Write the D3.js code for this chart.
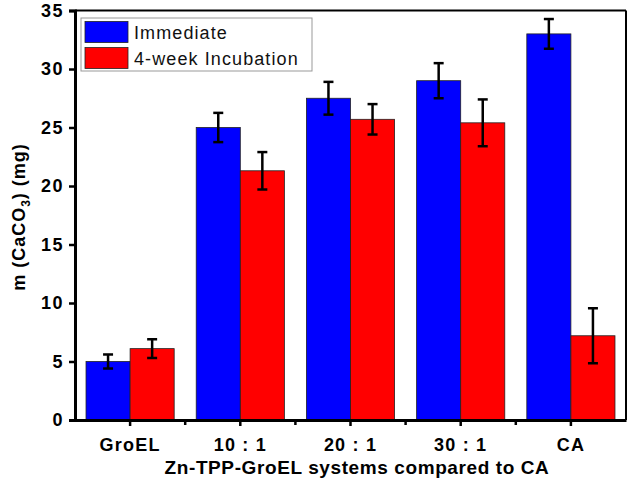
<!DOCTYPE html>
<html><head><meta charset="utf-8">
<script src="https://cdn.jsdelivr.net/npm/d3@7/dist/d3.min.js"></script>
<style>body{margin:0;background:#fff}svg{display:block}text{font-family:Arial,"Liberation Sans",sans-serif}</style>
</head><body><svg id="c" width="629" height="487"></svg>
<script>
const categories = ["GroEL", "10 : 1", "20 : 1", "30 : 1", "CA"];
const series = ["Immediate", "4-week Incubation"];
const immediate = [5.0, 25.0, 27.5, 29.0, 33.0];
const immediateErr = [0.6, 1.25, 1.4, 1.5, 1.27];
const incubation = [6.1, 21.3, 25.7, 25.4, 7.2];
const incubationErr = [0.8, 1.6, 1.3, 2.0, 2.35];
const yTicks = [0, 5, 10, 15, 20, 25, 30, 35];
const colors = ["#0000ff", "#ff0000"];

const svg = d3.select("#c");
const L = 75, R = 626, T = 10.5, B = 420;
const x = d3.scaleBand().domain(categories).range([L, R]).paddingInner(0.2).paddingOuter(0.1);
const xs = d3.scaleBand().domain(series).range([0, x.bandwidth()]);
const y = d3.scaleLinear().domain([0, 35]).range([B, T]);
const vals = [immediate, incubation], errs = [immediateErr, incubationErr];

// bars
series.forEach((s, si) => {
  const g = svg.append("g");
  g.selectAll("rect").data(categories).join("rect")
    .attr("x", c => x(c) + xs(s)).attr("width", xs.bandwidth())
    .attr("y", (c, i) => y(vals[si][i])).attr("height", (c, i) => B - y(vals[si][i]))
    .attr("fill", colors[si]).attr("stroke", "#222").attr("stroke-width", 0.8);
  const eg = g.selectAll("g.e").data(categories).join("g");
  eg.each(function(c, i) {
    const cx = x(c) + xs(s) + xs.bandwidth() / 2;
    const v = vals[si][i], e = errs[si][i];
    const el = d3.select(this);
    el.append("line").attr("x1", cx).attr("x2", cx).attr("y1", y(v + e)).attr("y2", y(v - e)).attr("stroke", "#000").attr("stroke-width", 2.5);
    [v + e, v - e].forEach(w => el.append("line").attr("x1", cx - 5).attr("x2", cx + 5).attr("y1", y(w)).attr("y2", y(w)).attr("stroke", "#000").attr("stroke-width", 2.5));
  });
});

// frame top/right
svg.append("line").attr("x1", L).attr("x2", R).attr("y1", T).attr("y2", T).attr("stroke", "#000").attr("stroke-width", 2);
svg.append("line").attr("x1", R).attr("x2", R).attr("y1", T).attr("y2", B).attr("stroke", "#000").attr("stroke-width", 2);

// y axis
const ya = svg.append("g").attr("transform", `translate(${L},0)`)
  .call(d3.axisLeft(y).tickValues(yTicks).tickSize(6).tickPadding(5));
ya.select(".domain").attr("stroke-width", 3);
ya.selectAll(".tick line").attr("stroke-width", 2.5);
ya.selectAll("text").attr("font-size", 18).attr("font-weight", "bold").attr("fill", "#000").attr("letter-spacing", 1.5);

// x axis
const xa = svg.append("g").attr("transform", `translate(0,${B})`)
  .call(d3.axisBottom(x).tickSize(6).tickPadding(12).tickSizeOuter(0));
xa.select(".domain").attr("stroke-width", 3);
xa.selectAll(".tick line").attr("stroke-width", 2.5);
xa.selectAll("text").attr("font-size", 18).attr("font-weight", "bold").attr("fill", "#000").attr("letter-spacing", 1.2);
// minor ticks between categories
const step = x.step();
const minor = categories.slice(1).map(c => x(c) + x.bandwidth() / 2 - step / 2);
svg.append("g").selectAll("line").data(minor).join("line")
  .attr("x1", d => d).attr("x2", d => d).attr("y1", B).attr("y2", B + 5)
  .attr("stroke", "#000").attr("stroke-width", 2.5);

// axis titles
svg.append("text").attr("x", 357).attr("y", 474).attr("text-anchor", "middle")
  .attr("font-size", 19).attr("font-weight", "bold").attr("letter-spacing", 0.6).text("Zn-TPP-GroEL systems compared to CA");
const yt = svg.append("text").attr("transform", `translate(25,217) rotate(-90)`)
  .attr("text-anchor", "middle").attr("font-size", 18).attr("font-weight", "bold").attr("letter-spacing", 1);
yt.append("tspan").text("m (CaCO");
yt.append("tspan").attr("font-size", 12).attr("dy", 5).text("3");
yt.append("tspan").attr("dy", -5).text(") (mg)");

// legend
const lg = svg.append("g");
lg.append("rect").attr("x", 81).attr("y", 18).attr("width", 231).attr("height", 53)
  .attr("fill", "#fff").attr("stroke", "#999").attr("stroke-width", 1);
series.forEach((s, i) => {
  lg.append("rect").attr("x", 85).attr("y", 21.5 + i * 26).attr("width", 43).attr("height", 21)
    .attr("fill", colors[i]).attr("stroke", "#222").attr("stroke-width", 0.8);
  lg.append("text").attr("x", 134).attr("y", 38.5 + i * 26).attr("font-size", 18).attr("fill", "#111").attr("letter-spacing", 1.1).text(s);
});
</script></body></html>
